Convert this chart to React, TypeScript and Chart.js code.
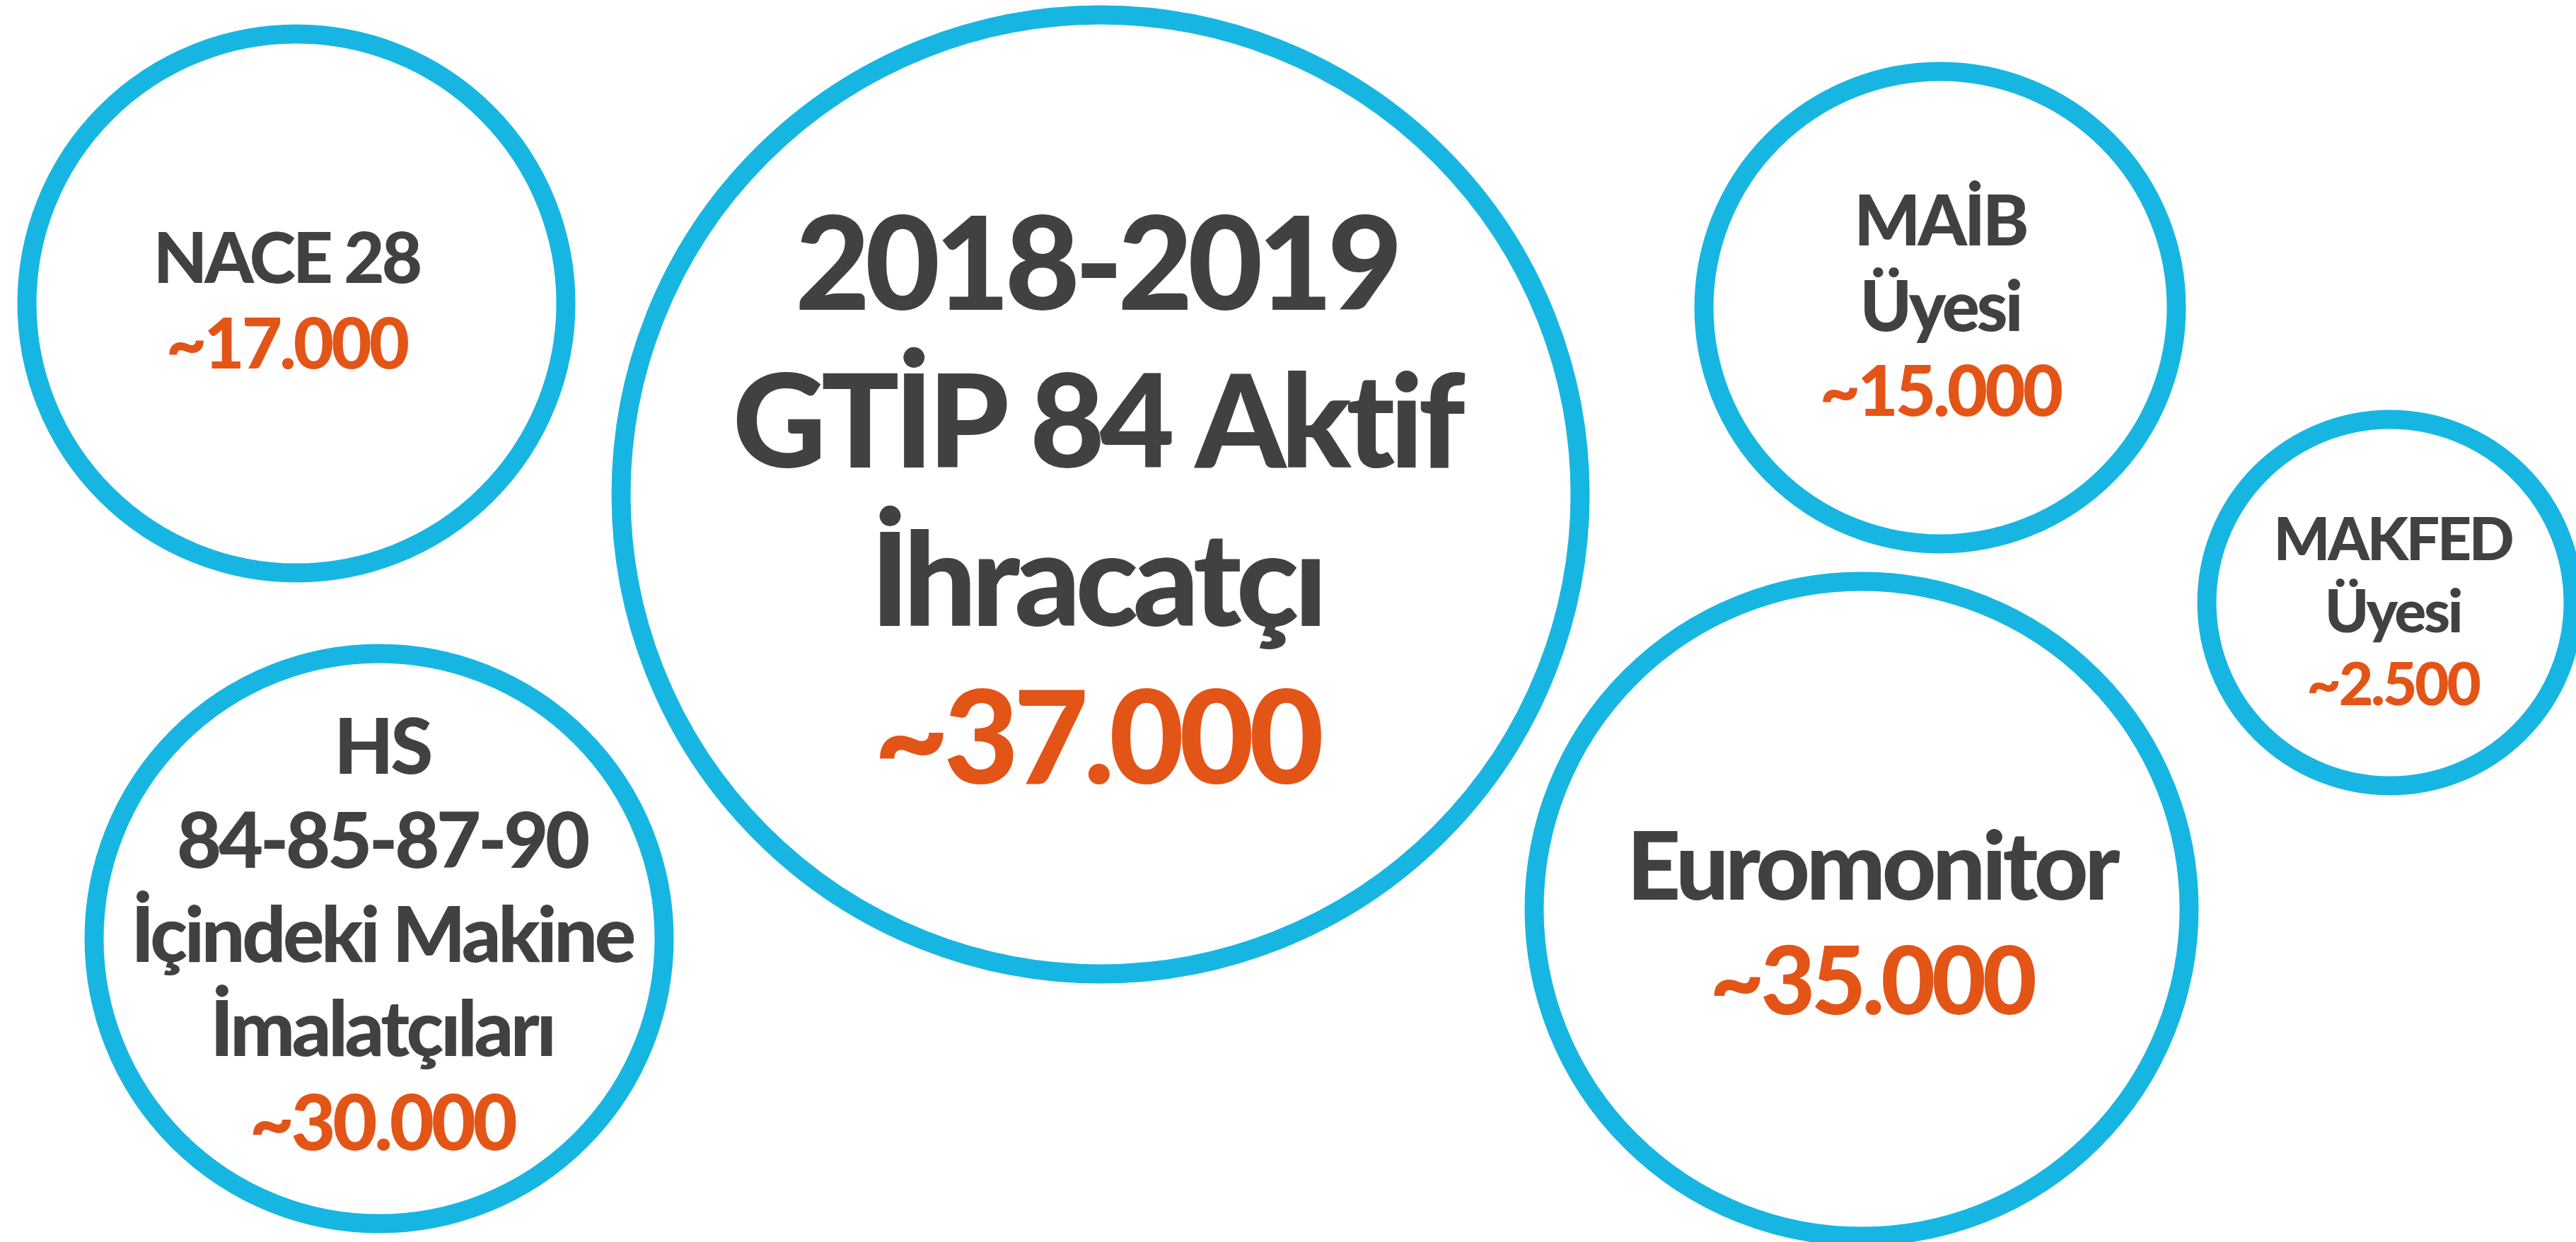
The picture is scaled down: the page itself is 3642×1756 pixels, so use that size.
import React, { useEffect, useRef } from "react";
import { Chart, registerables } from "chart.js";

Chart.register(...registerables);

// ---- Data ----
const categories = [
  "2018-2019 GTİP 84 Aktif İhracatçı",
  "NACE 28",
  "HS 84-85-87-90 İçindeki Makine İmalatçıları",
  "MAİB Üyesi",
  "MAKFED Üyesi",
  "Euromonitor",
];
const titleLines = [
  ["2018-2019", "GTİP 84 Aktif", "İhracatçı"],
  ["NACE 28"],
  ["HS", "84-85-87-90", "İçindeki Makine", "İmalatçıları"],
  ["MAİB", "Üyesi"],
  ["MAKFED", "Üyesi"],
  ["Euromonitor"],
];
const valueLabels = ["~37.000", "~17.000", "~30.000", "~15.000", "~2.500", "~35.000"];
const bubbleX = [1556, 419, 536, 2743, 3379, 2632];
const bubbleY = [699, 429, 1327, 435, 852, 1285];
const bubbleR = [678, 381, 403, 334, 259, 463];

// ---- Style ----
const CIRCLE_COLOR = "#17B6E2";
const TITLE_COLOR = "#414143";
const VALUE_COLOR = "#E35417";
const FONT_FAMILY = "Lato, 'Open Sans', sans-serif";
const FONT_WEIGHT = 900;
const fontSizes = [183, 99, 109, 99, 84, 133];
const textShiftX = [-6, -14, 4, 0, 4, 14];
const textShiftY = [8, -4, -6, -3, 12, 20];
const LINE_RATIO = 1.22;
const CAP_RATIO = 0.72;

const W = 3642;
const H = 1756;

const textPlugin = {
  id: "bubbleText",
  afterDatasetsDraw(chart: any) {
    const ctx = chart.ctx as CanvasRenderingContext2D;
    const meta = chart.getDatasetMeta(0);
    meta.data.forEach((el: any, i: number) => {
      const fs = fontSizes[i];
      const lines = [...titleLines[i], valueLabels[i]];
      const lh = fs * LINE_RATIO;
      const cap = fs * CAP_RATIO;
      const n = lines.length;
      const blockH = (n - 1) * lh + cap;
      const cx = el.x + textShiftX[i];
      const cy = el.y + textShiftY[i];
      const firstBase = cy - blockH / 2 + cap;
      ctx.save();
      ctx.textAlign = "center";
      ctx.textBaseline = "alphabetic";
      ctx.font = `${FONT_WEIGHT} ${fs}px ${FONT_FAMILY}`;
      try { (ctx as any).letterSpacing = `${-fs * 0.04}px`; } catch (e) {}
      lines.forEach((line, j) => {
        ctx.fillStyle = j === n - 1 ? VALUE_COLOR : TITLE_COLOR;
        ctx.fillText(line, cx, firstBase + j * lh);
      });
      ctx.restore();
    });
  },
};

export default function App() {
  const canvasRef = useRef<HTMLCanvasElement | null>(null);

  useEffect(() => {
    document.body.style.margin = "0";
    const canvas = canvasRef.current;
    if (!canvas) return;
    const chart = new Chart(canvas, {
      type: "bubble",
      data: {
        labels: categories,
        datasets: [
          {
            label: "Firms",
            data: bubbleX.map((x, i) => ({ x, y: bubbleY[i], r: bubbleR[i] })),
            backgroundColor: "rgba(255,255,255,0)",
            borderColor: CIRCLE_COLOR,
            borderWidth: 27,
            hoverBorderWidth: 27,
            clip: false as any,
          },
        ],
      },
      options: {
        responsive: false,
        animation: false,
        devicePixelRatio: 1,
        layout: { padding: 0, autoPadding: false },
        scales: {
          x: { type: "linear", min: 0, max: W, display: false, offset: false },
          y: { type: "linear", min: 0, max: H, reverse: true, display: false, offset: false },
        },
        plugins: {
          legend: { display: false },
          tooltip: { enabled: false },
        },
        events: [],
      },
      plugins: [textPlugin],
    });
    return () => chart.destroy();
  }, []);

  return (
    <div style={{ position: "fixed", left: 0, top: 0, width: W, height: H, background: "#fff" }}>
      <canvas ref={canvasRef} width={W} height={H} style={{ width: W, height: H, display: "block" }} />
    </div>
  );
}
